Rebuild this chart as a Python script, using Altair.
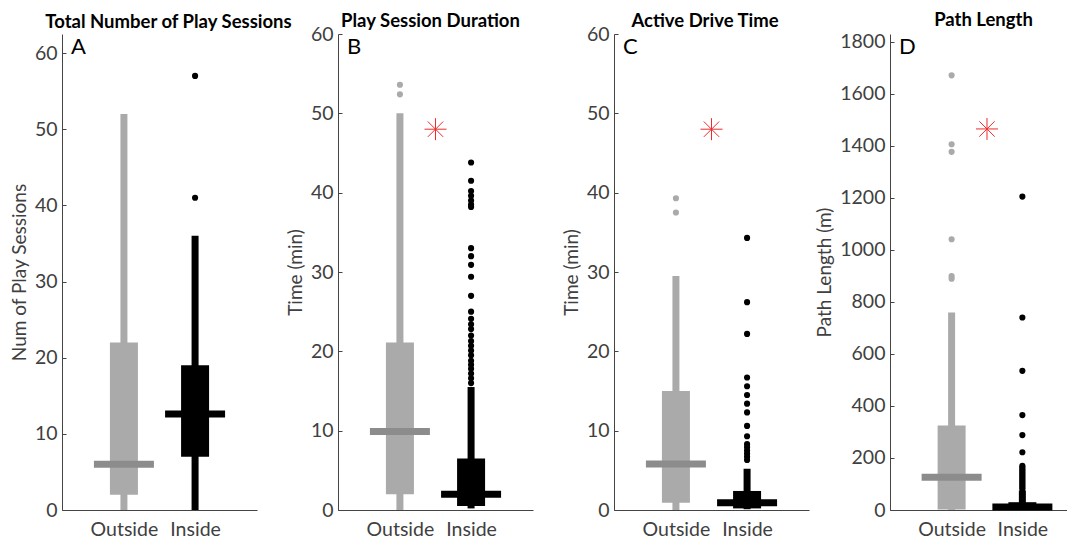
import altair as alt
import pandas as pd

FONT = "Lato"

groups = ["Outside", "Inside"]
positions = [1, 2]
box_colors = ["#aaaaaa", "#000000"]
median_colors = ["#8c8c8c", "#000000"]

titles = ["Total Number of Play Sessions", "Play Session Duration", "Active Drive Time", "Path Length"]
ytitles = ["Num of Play Sessions", "Time (min)", "Time (min)", "Path Length (m)"]
letters = ["A", "B", "C", "D"]
ymax = [62.5, 60, 60, 1830]
yticks = [
    [0, 10, 20, 30, 40, 50, 60],
    [0, 10, 20, 30, 40, 50, 60],
    [0, 10, 20, 30, 40, 50, 60],
    [0, 200, 400, 600, 800, 1000, 1200, 1400, 1600, 1800],
]

# Box statistics per panel: [Outside, Inside]
lo = [[0, 0], [0, 0.2], [0, 0.1], [0, 0]]
q1 = [[2, 7], [2.0, 0.5], [0.9, 0.2], [2, 1]]
med = [[6, 12.6], [9.9, 2.0], [5.8, 0.9], [126, 12]]
q3 = [[22, 19], [21.1, 6.5], [15.0, 2.4], [325, 30]]
hi = [[52, 36], [50, 15.5], [29.5, 5.2], [759, 75]]

out_outside = [
    [],
    [52.4, 53.6],
    [37.5, 39.3],
    [889, 899, 1041, 1377, 1406, 1671],
]
out_inside = [
    [41, 57],
    [16.0, 16.6, 17.2, 17.8, 18.3, 18.8, 19.5, 20.1, 20.7, 21.3, 22.0, 22.8, 23.4,
     24.1, 25.0, 27.0, 29.4, 30.9, 32.0, 33.0, 38.2, 38.5, 39.0, 39.6, 40.2, 41.5, 43.8],
    [6.3, 6.7, 7.1, 7.5, 7.9, 8.3, 9.3, 10.6, 12.3, 13.4, 14.5, 15.6, 16.7, 22.2, 26.2, 34.3],
    [80, 86, 92, 98, 104, 110, 116, 122, 128, 134, 140, 146, 152, 158, 164, 170,
     222, 288, 365, 535, 740, 1205],
]
# significance marker (between groups)
star_pos = [None, 1.5, 1.5, 1.5]
star_val = [None, 48, 48, 1465]

x_min = 0.2
x_max = [2.8, 2.8, 2.8, 2.56]
widths = [195, 195, 195, 177]
title_dx = [9, -5, -6.5, 5]
title_offset = [3, -6, -6, 2]

ASTERISK = "M-1,0L1,0M0,-1L0,1M-0.7,-0.7L0.7,0.7M-0.7,0.7L0.7,-0.7"

label_expr = "''"
for p, g in reversed(list(zip(positions, groups))):
    label_expr = f"datum.value == {p} ? '{g}' : {label_expr}"


def panel(i):
    box_df = pd.DataFrame({
        "group": groups, "pos": positions,
        "lo": lo[i], "q1": q1[i], "med": med[i], "q3": q3[i], "hi": hi[i],
    })
    out_df = pd.DataFrame({
        "group": [groups[0]] * len(out_outside[i]) + [groups[1]] * len(out_inside[i]),
        "pos": [positions[0]] * len(out_outside[i]) + [positions[1]] * len(out_inside[i]),
        "val": out_outside[i] + out_inside[i],
    })
    xscale = alt.Scale(domain=[x_min, x_max[i]], nice=False, zero=False)
    yscale = alt.Scale(domain=[0, ymax[i]], nice=False)
    xaxis = alt.Axis(values=positions, labelExpr=label_expr, title=None, grid=False,
                     ticks=False, labelFontSize=19.5, labelPadding=10, domainColor="#444444",
                     labelColor="#404040", labelFont=FONT)
    yaxis_main = alt.Axis(values=yticks[i], title=ytitles[i], grid=False, ticks=False,
                          format="d", labelPadding=5, labelFontSize=19.5, labelColor="#404040",
                          labelFont=FONT, domainColor="#444444", titleFont=FONT,
                          titleFontSize=19, titleFontWeight="normal", titleColor="#404040",
                          titlePadding=5)
    yaxis_ticks = alt.Axis(orient="left", offset=-4, values=yticks[i], ticks=True, tickSize=4,
                           labels=False, domain=False, title=None, grid=False,
                           tickColor="#444444")
    cbox = alt.Color("group:N", scale=alt.Scale(domain=groups, range=box_colors), legend=None)
    cmed = alt.Color("group:N", scale=alt.Scale(domain=groups, range=median_colors), legend=None)
    X = alt.X("pos:Q", scale=xscale, axis=xaxis)

    whisk = alt.Chart(box_df).mark_bar(size=7, opacity=1).encode(
        x=X, y=alt.Y("lo:Q", scale=yscale, axis=yaxis_main), y2="hi:Q", color=cbox)
    box = alt.Chart(box_df).mark_bar(size=28, opacity=1).encode(
        x=X, y=alt.Y("q1:Q", scale=yscale, axis=yaxis_ticks), y2="q3:Q", color=cbox)
    medl = alt.Chart(box_df).mark_tick(orient="horizontal", size=60, thickness=7,
                                       opacity=1).encode(
        x=X, y=alt.Y("med:Q", scale=yscale, axis=None), color=cmed)
    outs = alt.Chart(out_df).mark_circle(size=38, opacity=1).encode(
        x=X, y=alt.Y("val:Q", scale=yscale, axis=None), color=cbox)
    letter_df = pd.DataFrame({"x": [x_min], "y": [ymax[i]], "t": [letters[i]]})
    letter = alt.Chart(letter_df).mark_text(
        align="left", baseline="top", dx=4, dy=3, fontSize=22, font=FONT, color="#000000"
    ).encode(x=alt.X("x:Q", scale=xscale, axis=xaxis),
             y=alt.Y("y:Q", scale=yscale, axis=None), text="t:N")
    layers = [whisk, box, medl, outs, letter]
    if star_pos[i] is not None:
        star_df = pd.DataFrame({"pos": [star_pos[i]], "val": [star_val[i]]})
        star = alt.Chart(star_df).mark_point(
            shape=ASTERISK, size=484, filled=False, color="#ee2b2b", strokeWidth=1, opacity=1
        ).encode(x=X, y=alt.Y("val:Q", scale=yscale, axis=None))
        layers.append(star)
    return alt.layer(*layers).resolve_axis(y="independent").resolve_scale(
        color="independent").properties(
        width=widths[i], height=476,
        title=alt.TitleParams(titles[i], fontSize=18.5, fontWeight="bold", font=FONT,
                              anchor="middle", dx=title_dx[i],
                              offset=title_offset[i], color="#000000"))


chart = alt.hconcat(*[panel(i) for i in range(4)], spacing=81, bounds="flush").configure_view(
    stroke=None).properties(padding={"left": 2, "top": 3, "right": 0, "bottom": 0})

chart.save("out.html", embed_options={"renderer": "svg", "actions": False})
